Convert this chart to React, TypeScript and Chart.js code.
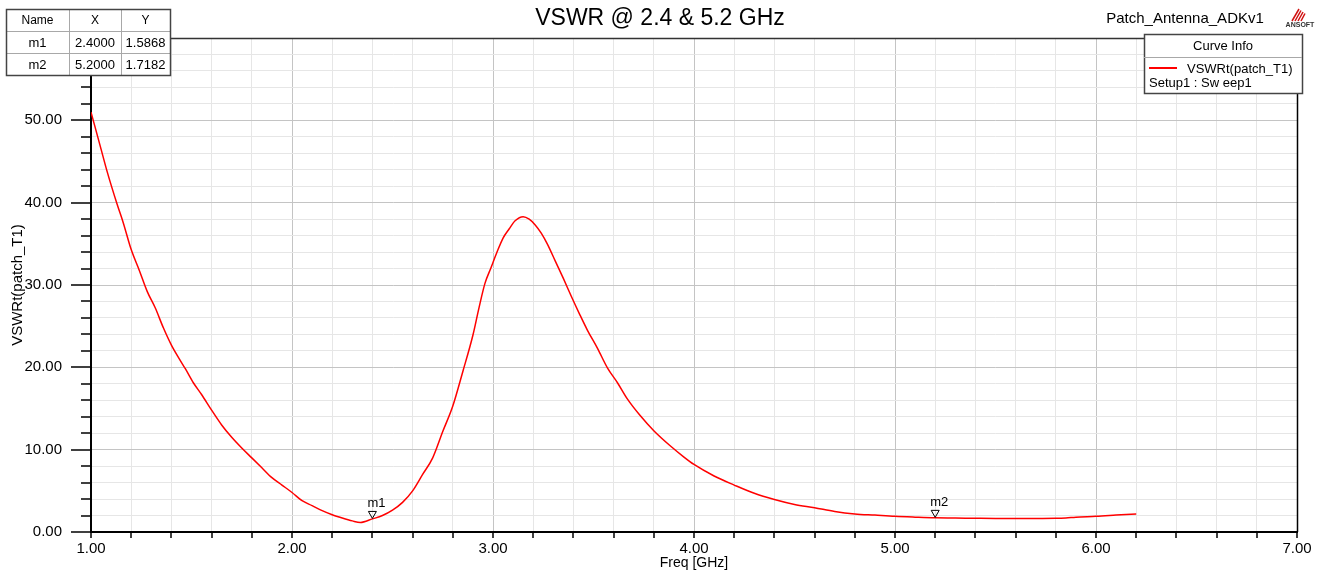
import React, { useEffect, useRef } from "react";
import { Chart, registerables } from "chart.js";

Chart.register(...registerables);

// ---------- data ----------
const freqGHz = [
  1.0, 1.05, 1.08, 1.13, 1.16, 1.2, 1.24, 1.28, 1.32, 1.36, 1.4, 1.44, 1.47, 1.51, 1.55,
  1.6, 1.65, 1.7, 1.75, 1.8, 1.85, 1.9, 1.95, 2.0, 2.05, 2.1, 2.15, 2.2, 2.25, 2.3, 2.34,
  2.4, 2.45, 2.5, 2.55, 2.6, 2.65, 2.7, 2.75, 2.8, 2.85, 2.9, 2.93, 2.96, 2.99, 3.02, 3.05,
  3.08, 3.11, 3.15, 3.18, 3.21, 3.24, 3.27, 3.31, 3.35, 3.39, 3.43, 3.47, 3.52, 3.57, 3.62,
  3.67, 3.73, 3.8, 3.88, 3.95, 4.0, 4.1, 4.2, 4.3, 4.4, 4.5, 4.6, 4.7, 4.8, 4.9, 5.0, 5.1,
  5.2, 5.3, 5.4, 5.5, 5.6, 5.7, 5.8, 5.85, 5.9, 6.0, 6.1, 6.2,
];
const vswrValues = [
  51.0, 46.5, 43.8, 39.8, 37.6, 34.3, 31.8, 29.2, 27.2, 24.8, 22.7, 21.0, 19.8, 18.1, 16.7,
  14.8, 13.0, 11.5, 10.2, 9.0, 7.8, 6.6, 5.7, 4.8, 3.8, 3.2, 2.6, 2.1, 1.7, 1.35, 1.15,
  1.59, 2.0, 2.65, 3.6, 5.0, 7.0, 9.0, 12.2, 15.3, 19.5, 23.9, 27.2, 30.2, 32.1, 34.0, 35.7,
  36.8, 37.8, 38.3, 38.0, 37.3, 36.3, 35.0, 32.9, 30.8, 28.6, 26.5, 24.5, 22.3, 19.9, 18.1,
  16.1, 14.2, 12.3, 10.5, 9.1, 8.2, 6.8, 5.7, 4.7, 3.95, 3.35, 2.95, 2.5, 2.2, 2.05, 1.9, 1.8,
  1.72, 1.7, 1.67, 1.65, 1.65, 1.65, 1.66, 1.7, 1.8, 1.9, 2.05, 2.2,
];

const markerNames = ["m1", "m2"];
const markerX = [2.4, 5.2];
const markerY = [1.5868, 1.7182];
const markerXText = ["2.4000", "5.2000"];
const markerYText = ["1.5868", "1.7182"];

const xMin = 1;
const xMax = 7;
const xStep = 0.2;
const yMin = 0;
const yMax = 60;
const yStep = 2;

const chartTitle = "VSWR @ 2.4 & 5.2 GHz";
const projectName = "Patch_Antenna_ADKv1";
const xTitle = "Freq [GHz]";
const yTitle = "VSWRt(patch_T1)";
const legendHeader = "Curve Info";
const seriesName = "VSWRt(patch_T1)";
const sweepName = "Setup1 : Sw eep1";

const FONT = "'Liberation Sans', Arial, sans-serif";
const RED = "#ff0000";

const isMult = (v: number, m: number) => Math.abs(v / m - Math.round(v / m)) < 1e-6;

const decorPlugin = {
  id: "decor",
  afterDraw(chart: any) {
    const ctx: CanvasRenderingContext2D = chart.ctx;
    const { left, right, top, bottom } = chart.chartArea;
    const xs = chart.scales.x;
    const ys = chart.scales.y;
    ctx.save();

    // top and right borders
    ctx.strokeStyle = "#333";
    ctx.lineWidth = 1.5;
    ctx.beginPath();
    ctx.moveTo(left, top + 0.5);
    ctx.lineTo(right, top + 0.5);
    ctx.stroke();
    ctx.strokeStyle = "#000";
    ctx.beginPath();
    ctx.moveTo(right + 0.5, top);
    ctx.lineTo(right + 0.5, bottom);
    ctx.stroke();

    // y ticks
    ctx.strokeStyle = "#000";
    ctx.lineWidth = 1.5;
    ys.ticks.forEach((t: any) => {
      const y = Math.round(ys.getPixelForValue(t.value));
      const len = isMult(t.value, 10) ? 20 : 10;
      ctx.beginPath();
      ctx.moveTo(left - len, y);
      ctx.lineTo(left, y);
      ctx.stroke();
    });
    // x ticks
    xs.ticks.forEach((t: any) => {
      const x = Math.round(xs.getPixelForValue(t.value));
      ctx.beginPath();
      ctx.moveTo(x, bottom);
      ctx.lineTo(x, bottom + 6);
      ctx.stroke();
    });

    // markers
    ctx.lineWidth = 1;
    ctx.strokeStyle = "#000";
    ctx.fillStyle = "#000";
    ctx.font = `13px ${FONT}`;
    ctx.textAlign = "left";
    ctx.textBaseline = "alphabetic";
    markerX.forEach((mx, i) => {
      const px = xs.getPixelForValue(mx);
      const py = ys.getPixelForValue(markerY[i]);
      ctx.beginPath();
      ctx.moveTo(px - 4, py - 7.5);
      ctx.lineTo(px + 4, py - 7.5);
      ctx.lineTo(px, py - 0.5);
      ctx.closePath();
      ctx.stroke();
      ctx.fillText(markerNames[i], px - 5, py - 12);
    });

    // title
    ctx.fillStyle = "#000";
    ctx.font = `23px ${FONT}`;
    ctx.textAlign = "center";
    ctx.textBaseline = "middle";
    ctx.fillText(chartTitle, 660, 19);

    // project name
    ctx.font = `15px ${FONT}`;
    ctx.fillText(projectName, 1185, 19);

    // axis titles
    ctx.font = `14px ${FONT}`;
    ctx.fillText(xTitle, (left + right) / 2, 563);
    ctx.save();
    ctx.translate(18, 285);
    ctx.rotate(-Math.PI / 2);
    ctx.font = `15px ${FONT}`;
    ctx.fillText(yTitle, 0, 0);
    ctx.restore();

    // marker table
    const tx = [6, 69, 121, 170];
    const ty = [9, 31, 53, 75];
    ctx.fillStyle = "#fff";
    ctx.fillRect(tx[0], ty[0], tx[3] - tx[0], ty[3] - ty[0]);
    ctx.strokeStyle = "#a8a8a8";
    ctx.lineWidth = 1;
    ctx.beginPath();
    [tx[1], tx[2]].forEach((x) => {
      ctx.moveTo(x + 0.5, ty[0]);
      ctx.lineTo(x + 0.5, ty[3]);
    });
    [ty[1], ty[2]].forEach((y) => {
      ctx.moveTo(tx[0], y + 0.5);
      ctx.lineTo(tx[3], y + 0.5);
    });
    ctx.stroke();
    ctx.strokeStyle = "#444";
    ctx.lineWidth = 1.5;
    ctx.strokeRect(tx[0] + 0.5, ty[0] + 0.5, tx[3] - tx[0], ty[3] - ty[0]);
    ctx.fillStyle = "#000";
    ctx.textAlign = "center";
    ctx.textBaseline = "middle";
    ctx.font = `12px ${FONT}`;
    const hdr = ["Name", "X", "Y"];
    hdr.forEach((h, c) => ctx.fillText(h, (tx[c] + tx[c + 1]) / 2, (ty[0] + ty[1]) / 2 + 1));
    ctx.font = `13px ${FONT}`;
    markerNames.forEach((n, r) => {
      const cy = (ty[r + 1] + ty[r + 2]) / 2 + 1;
      ctx.fillText(n, (tx[0] + tx[1]) / 2, cy);
      ctx.fillText(markerXText[r], (tx[1] + tx[2]) / 2, cy);
      ctx.fillText(markerYText[r], (tx[2] + tx[3]) / 2, cy);
    });

    // legend box
    const lx0 = 1144, lx1 = 1302, ly0 = 34, ly1 = 93, lsep = 57;
    ctx.fillStyle = "#fff";
    ctx.fillRect(lx0, ly0, lx1 - lx0, ly1 - ly0);
    ctx.strokeStyle = "#444";
    ctx.lineWidth = 1.5;
    ctx.strokeRect(lx0 + 0.5, ly0 + 0.5, lx1 - lx0, ly1 - ly0);
    ctx.strokeStyle = "#a8a8a8";
    ctx.lineWidth = 1;
    ctx.beginPath();
    ctx.moveTo(lx0, lsep + 0.5);
    ctx.lineTo(lx1, lsep + 0.5);
    ctx.stroke();
    ctx.fillStyle = "#000";
    ctx.font = `13px ${FONT}`;
    ctx.textAlign = "center";
    ctx.fillText(legendHeader, (lx0 + lx1) / 2, 46);
    ctx.strokeStyle = RED;
    ctx.lineWidth = 2;
    ctx.beginPath();
    ctx.moveTo(1149, 68);
    ctx.lineTo(1177, 68);
    ctx.stroke();
    ctx.textAlign = "left";
    ctx.fillText(seriesName, 1187, 69);
    ctx.fillText(sweepName, 1149, 83);

    // logo
    ctx.strokeStyle = "#d01010";
    ctx.lineWidth = 1.5;
    for (let k = 0; k < 4; k++) {
      ctx.beginPath();
      ctx.moveTo(1292 + k * 3, 21);
      ctx.lineTo(1299 + k * 2, 9 + k * 1.5);
      ctx.stroke();
    }
    ctx.fillStyle = "#333";
    ctx.font = `bold 7px ${FONT}`;
    ctx.textAlign = "center";
    ctx.fillText("ANSOFT", 1300, 25);

    ctx.restore();
  },
};

export default function App() {
  const ref = useRef<HTMLCanvasElement | null>(null);

  useEffect(() => {
    if (!ref.current) return;
    const points = freqGHz.map((f, i) => ({ x: f, y: vswrValues[i] }));
    const chart = new Chart(ref.current, {
      type: "line",
      data: {
        datasets: [
          {
            label: seriesName,
            data: points,
            borderColor: RED,
            borderWidth: 1.5,
            pointRadius: 0,
            fill: false,
            cubicInterpolationMode: "monotone",
          },
        ],
      },
      options: {
        responsive: false,
        animation: false,
        layout: { padding: { left: 0, top: 37, right: 25, bottom: 0 } },
        plugins: {
          legend: { display: false },
          title: { display: false },
          tooltip: { enabled: false },
        },
        scales: {
          x: {
            type: "linear",
            min: xMin,
            max: xMax,
            afterFit: (s: any) => {
              s.height = 41;
            },
            border: { display: true, color: "#000", width: 2 },
            grid: {
              drawTicks: false,
              lineWidth: 1,
              color: (c: any) => (isMult(c.tick.value, 1) ? "#c4c4c4" : "#e6e6e6"),
            },
            ticks: {
              stepSize: xStep,
              autoSkip: false,
              maxRotation: 0,
              padding: 8,
              color: "#000",
              font: { family: FONT, size: 15 },
              callback: (v: any) => (isMult(Number(v), 1) ? Number(v).toFixed(2) : ""),
            },
          },
          y: {
            type: "linear",
            min: yMin,
            max: yMax,
            afterFit: (s: any) => {
              s.width = 91;
            },
            border: { display: true, color: "#000", width: 2 },
            grid: {
              drawTicks: false,
              lineWidth: 1,
              color: (c: any) => (isMult(c.tick.value, 10) ? "#c4c4c4" : "#e6e6e6"),
            },
            ticks: {
              stepSize: yStep,
              autoSkip: false,
              padding: 29,
              color: "#000",
              font: { family: FONT, size: 15 },
              callback: (v: any) => (isMult(Number(v), 10) ? Number(v).toFixed(2) : ""),
            },
          },
        },
      },
      plugins: [decorPlugin],
    });
    return () => chart.destroy();
  }, []);

  return (
    <div style={{ position: "absolute", left: 0, top: 0, width: 1322, height: 573, background: "#fff" }}>
      <canvas ref={ref} width={1322} height={573} style={{ display: "block" }} />
    </div>
  );
}
